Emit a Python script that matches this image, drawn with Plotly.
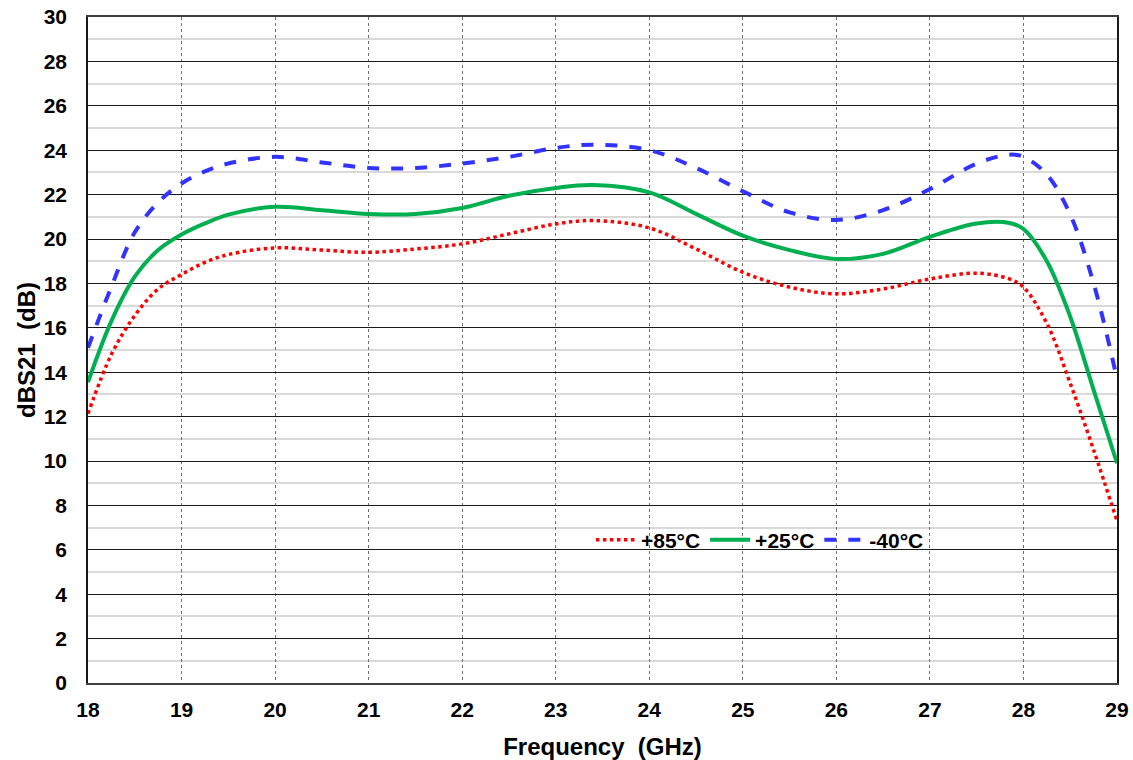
import plotly.graph_objects as go

freq = [18, 18.25, 18.5, 18.75, 19, 19.25, 19.5, 20, 20.5, 21, 21.5, 22, 22.5, 23, 23.4, 24, 24.5, 25, 25.5, 26, 26.5, 27, 27.5, 27.85, 28, 28.25, 28.5, 28.75, 29]

t85 = [12.13, 14.8, 16.55, 17.75, 18.4, 18.95, 19.3, 19.6, 19.5, 19.4, 19.55, 19.78, 20.23, 20.68, 20.83, 20.5, 19.55, 18.5, 17.83, 17.53, 17.75, 18.2, 18.46, 18.2, 17.83, 16.2, 13.5, 10.5, 7.3]
t25 = [13.55, 16.3, 18.3, 19.5, 20.2, 20.7, 21.1, 21.45, 21.3, 21.13, 21.13, 21.4, 21.95, 22.3, 22.43, 22.1, 21.13, 20.15, 19.5, 19.1, 19.33, 20.1, 20.7, 20.72, 20.45, 19.0, 16.5, 13.2, 9.9]
tm40 = [15.1, 17.85, 20.3, 21.65, 22.5, 23.05, 23.4, 23.7, 23.45, 23.2, 23.2, 23.4, 23.7, 24.1, 24.25, 24.0, 23.2, 22.15, 21.2, 20.86, 21.3, 22.25, 23.4, 23.8, 23.7, 22.9, 21.1, 18.0, 13.7]

series_names = ["+85°C", "+25°C", "-40°C"]

FONT = "Arial, 'Liberation Sans', sans-serif"

fig = go.Figure()
fig.add_trace(go.Scatter(x=freq, y=t85, name=series_names[0], mode="lines",
                         line=dict(color="#ff0000", width=3.5, dash="dot", shape="spline", smoothing=1.0)))
fig.add_trace(go.Scatter(x=freq, y=t25, name=series_names[1], mode="lines",
                         line=dict(color="#00b050", width=4, shape="spline", smoothing=1.0)))
fig.add_trace(go.Scatter(x=freq, y=tm40, name=series_names[2], mode="lines",
                         line=dict(color="#3333ff", width=4, dash="dash", shape="spline", smoothing=1.0)))

fig.update_layout(
    width=1133, height=760,
    margin=dict(l=88, r=16, t=17, b=77),
    paper_bgcolor="white", plot_bgcolor="white",
    font=dict(family=FONT, size=21, color="black"),
    showlegend=True,
    legend=dict(orientation="h", x=0.653, y=0.2147, xanchor="center", yanchor="middle",
                bgcolor="rgba(0,0,0,0)", font=dict(family=FONT, size=21, color="black", weight="bold"),
                itemwidth=40, tracegroupgap=0),
    xaxis=dict(range=[18, 29], dtick=1, tick0=18, automargin=False,
               showgrid=True, gridcolor="#707070", griddash="dot", gridwidth=1,
               showline=True, linecolor="#404040", linewidth=1.5, mirror=True,
               ticks="", zeroline=False, ticklabelstandoff=7, ticklabeloverflow="allow",
               tickfont=dict(family=FONT, size=21, color="black", weight="bold"),
               title=dict(text="Frequency  (GHz)", font=dict(family=FONT, size=24, color="black", weight="bold"),
                          standoff=23)),
    yaxis=dict(range=[0, 30], dtick=2, tick0=0, automargin=False,
               showgrid=True, gridcolor="#1a1a1a", gridwidth=1.2,
               minor=dict(dtick=1, showgrid=True, gridcolor="#d9d9d9", gridwidth=2),
               showline=True, linecolor="#1a1a1a", linewidth=1.5, mirror=True,
               ticks="", zeroline=False, ticklabelstandoff=15, ticklabeloverflow="allow",
               tickfont=dict(family=FONT, size=21, color="black", weight="bold"),
               title=dict(text="dBS21  (dB)", font=dict(family=FONT, size=24, color="black", weight="bold"),
                          standoff=1)),
)

fig.write_html("out.html", config={"displayModeBar": False},
               post_script="document.body.style.margin='0px';document.body.style.overflow='hidden';")
